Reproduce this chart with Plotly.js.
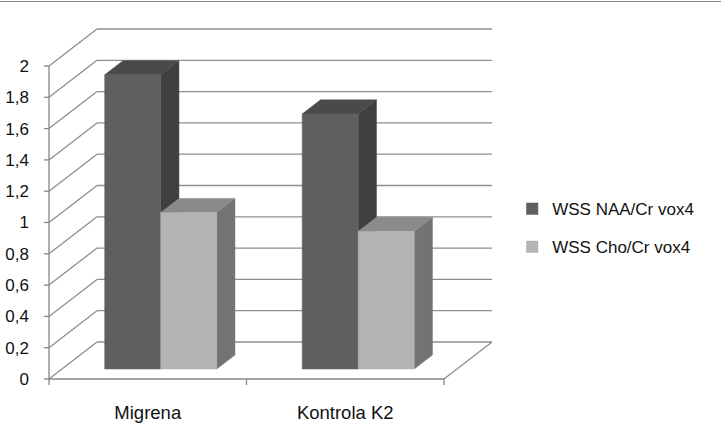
<!DOCTYPE html>
<html>
<head>
<meta charset="utf-8">
<script src="https://cdn.plot.ly/plotly-3.0.1.min.js"></script>
<style>
html,body{margin:0;padding:0;background:#fff;}
#chart{width:721px;height:443px;}
</style>
</head>
<body>
<div id="chart"></div>
<script>
// ---- data ----
const categories = ['Migrena', 'Kontrola K2'];
const seriesNames = ['WSS NAA/Cr vox4', 'WSS Cho/Cr vox4'];
const naaValues = [1.88, 1.63];
const choValues = [1.00, 0.88];
const yTickVals = [0, 0.2, 0.4, 0.6, 0.8, 1, 1.2, 1.4, 1.6, 1.8, 2];
const yTickText = ['0', '0,2', '0,4', '0,6', '0,8', '1', '1,2', '1,4', '1,6', '1,8', '2'];

// ---- style / geometry ----
const PXX = 197.5;          // px per category unit
const PXY = 156.5;          // px per value unit
const DX = 48 / PXX;        // depth offset of back wall (x)
const DY = 37 / PXY;        // depth offset of back wall (y)
const BW = 56 / PXX;        // bar width
const F0 = 0.27, F1 = 0.65; // bar depth (front, back) fraction
const seriesColors = [
  {front: '#5f5f5f', top: '#4a4a4a', side: '#3f3f3f'},
  {front: '#b3b3b3', top: '#8a8a8a', side: '#737373'}
];
const gridColor = '#8e8e8e';
const FAMILY = 'Liberation Sans, Arial, sans-serif';
const FONT = {family: FAMILY, size: 17, color: '#111'};
const CATFONT = {family: FAMILY, size: 18.5, color: '#111'};

const xMin = -0.5, xMax = categories.length - 0.5;
const yMax = yTickVals[yTickVals.length - 1];

function P(x, y, d) { return [x + d * DX, y + d * DY]; }

const traces = [];

// grid / walls
const gx = [], gy = [];
function seg(a, b) { gx.push(a[0], b[0], null); gy.push(a[1], b[1], null); }
yTickVals.forEach(v => {
  seg(P(xMin, v, 0), P(xMin, v, 1));
  seg(P(xMin, v, 1), P(xMax, v, 1));
});
seg(P(xMax, 0, 0), P(xMax, 0, 1));
traces.push({x: gx, y: gy, mode: 'lines', line: {color: gridColor, width: 1.3}, hoverinfo: 'skip', showlegend: false});

// axes lines and tick marks
const ax = [], ay = [];
function aseg(a, b) { ax.push(a[0], b[0], null); ay.push(a[1], b[1], null); }
aseg([xMin, 0], [xMin, yMax]);
aseg([xMin, 0], [xMax, 0]);
yTickVals.forEach(v => aseg([xMin - 5 / PXX, v], [xMin, v]));
for (let i = 0; i <= categories.length; i++) aseg([xMin + i, 0], [xMin + i, -6 / PXY]);
traces.push({x: ax, y: ay, mode: 'lines', line: {color: '#868686', width: 1.3}, hoverinfo: 'skip', showlegend: false});

// bars
const allSeries = [naaValues, choValues];
function poly(pts, color) {
  traces.push({
    x: pts.map(p => p[0]).concat([pts[0][0]]),
    y: pts.map(p => p[1]).concat([pts[0][1]]),
    mode: 'lines', fill: 'toself', fillcolor: color,
    line: {color: color, width: 0.5}, hoverinfo: 'skip', showlegend: false
  });
}
categories.forEach((c, ci) => {
  allSeries.forEach((vals, si) => {
    const v = vals[ci];
    const xl = ci - BW + si * BW, xr = xl + BW;
    const col = seriesColors[si];
    poly([P(xr, 0, F0), P(xr, 0, F1), P(xr, v, F1), P(xr, v, F0)], col.side);
    poly([P(xl, v, F0), P(xr, v, F0), P(xr, v, F1), P(xl, v, F1)], col.top);
    poly([P(xl, 0, F0), P(xr, 0, F0), P(xr, v, F0), P(xl, v, F0)], col.front);
  });
});

// legend entries
seriesNames.forEach((n, si) => {
  traces.push({type: 'bar', x: [null], y: [null], name: n, legendgroup: 'g' + si,
    marker: {color: seriesColors[si].front}, hoverinfo: 'skip'});
});

const layout = {
  width: 721, height: 443,
  margin: {l: 42, r: 226, t: 27, b: 55, pad: 0},
  paper_bgcolor: '#fff', plot_bgcolor: 'rgba(0,0,0,0)',
  font: FONT,
  separators: ', ',
  showlegend: true,
  xaxis: {
    type: 'linear',
    range: [xMin - 7 / PXX, xMin + 446 / PXX],
    showgrid: false, zeroline: false, showline: false, ticks: '',
    tickmode: 'array', tickvals: categories.map((c, i) => i), ticktext: categories,
    ticklabelstandoff: 11, tickfont: CATFONT, fixedrange: true
  },
  yaxis: {
    type: 'linear',
    range: [-9 / PXY, 352 / PXY],
    showgrid: false, zeroline: false, showline: false, ticks: '',
    tickmode: 'array', tickvals: yTickVals, ticktext: yTickText,
    ticklabelstandoff: 12, tickfont: FONT, fixedrange: true
  },
  legend: {
    x: 1.038, xanchor: 'left', y: 0.443, yanchor: 'middle',
    font: FONT, traceorder: 'grouped', tracegroupgap: 13,
    bgcolor: 'rgba(0,0,0,0)'
  },
  shapes: [{type: 'line', xref: 'paper', yref: 'paper', x0: -0.2, x1: 1.6,
    y0: (443 - 55 - 1.5) / 361, y1: (443 - 55 - 1.5) / 361,
    line: {color: '#888', width: 1}}]
};

Plotly.newPlot('chart', traces, layout, {staticPlot: true, displayModeBar: false});
</script>
</body>
</html>
